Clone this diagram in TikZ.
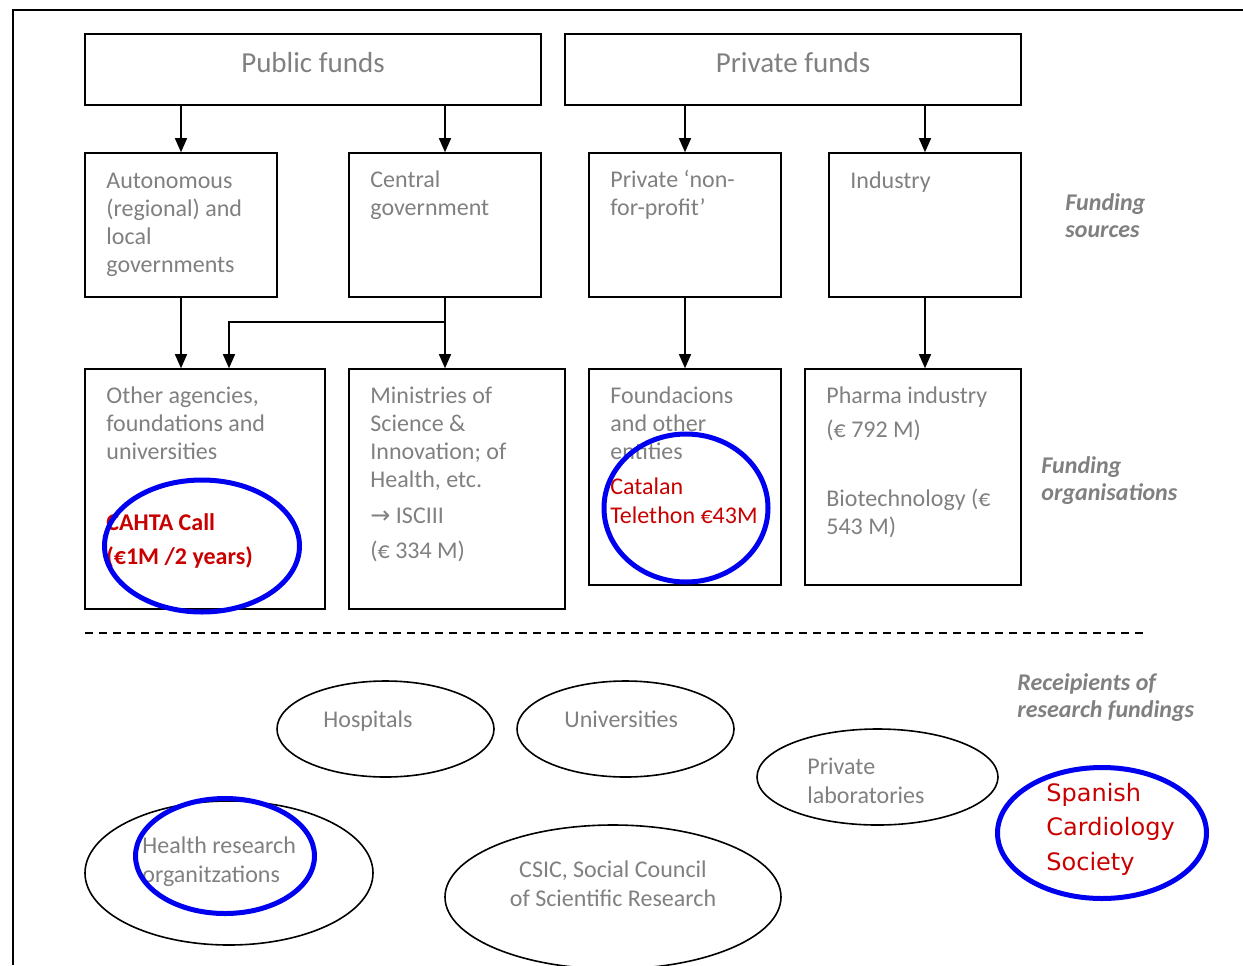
\documentclass[tikz,border=0pt]{standalone}
\usepackage{fontspec}
\setmainfont{Carlito}
\newfontfamily\dejavu{DejaVu Sans}
\usetikzlibrary{arrows.meta,shapes.geometric,fit}
\definecolor{txtgray}{RGB}{128,128,128}
\definecolor{darkred}{RGB}{200,0,0}
\definecolor{ringblue}{RGB}{0,0,240}
\tikzset{
    box/.style={draw, line width=0.8pt, inner sep=0pt},
    lbl/.style={anchor=base west, inner sep=0pt, align=left, text=txtgray, font=\fontsize{12}{14}\selectfont},
    side/.style={lbl, font=\fontsize{12}{13.5}\selectfont\bfseries\itshape},
    oval/.style={draw, ellipse, line width=0.8pt, inner sep=0pt},
    ring/.style={draw=ringblue, ellipse, line width=2.5pt, inner sep=0pt},
    arr/.style={-{Triangle[length=7pt,width=6pt]}, line width=0.7pt},
}
\begin{document}
\begin{tikzpicture}[x=0.5pt,y=-0.5pt]
    \useasboundingbox (0,0) rectangle (1243,965);
    \draw[line width=1pt] (13,965)--(13,10)--(1243,10);

    \node[box, fit={(85,34) (541,105)}] (pub) {};
    \node[box, fit={(565,34) (1021,105)}] (prv) {};
    \node[box, fit={(85,153) (277,297)}] (aut) {};
    \node[box, fit={(349,153) (541,297)}] (cen) {};
    \node[box, fit={(589,153) (781,297)}] (npf) {};
    \node[box, fit={(829,153) (1021,297)}] (ind) {};
    \node[box, fit={(85,369) (325,609)}] (oth) {};
    \node[box, fit={(349,369) (565,609)}] (min) {};
    \node[box, fit={(589,369) (781,585)}] (fou) {};
    \node[box, fit={(805,369) (1021,585)}] (pha) {};

    \node[lbl, anchor=base, font=\fontsize{14.5}{17}\selectfont] (pub-t) at (313,72) {Public funds};
    \node[lbl, anchor=base, font=\fontsize{14.5}{17}\selectfont] (prv-t) at (793,72) {Private funds};
    \node[lbl] (aut-t) at (106,272) {Autonomous\\(regional) and\\local\\governments};
    \node[lbl] (cen-t) at (370,215) {Central\\government};
    \node[lbl] (npf-t) at (610,215) {Private ‘non-\\for-profit’};
    \node[lbl] (ind-t) at (850,188) {Industry};
    \node[lbl] (oth-t) at (106,459) {Other agencies,\\foundations and\\universities};
    \node[lbl, text=darkred, font=\fontsize{12}{17}\selectfont\bfseries] (cahta-t) at (106,564) {CAHTA Call\\(€1M /2 years)};
    \node[lbl] (min-t) at (370,558) {Ministries of\\Science \&\\Innovation; of\\Health, etc.\\[4pt]{\dejavu →} ISCIII\\[3.5pt](€ 334 M)};
    \node[lbl] (fou-t) at (610,459) {Foundacions\\and other\\entities};
    \node[lbl, text=darkred, font=\fontsize{12}{14.5}\selectfont] (cat-t) at (610,523) {Catalan\\Telethon €43M};
    \node[lbl] (pha-t) at (826,437) {Pharma industry\\[3pt](€ 792 M)};
    \node[lbl] (bio-t) at (826,534) {Biotechnology (€\\543 M)};

    \node[side] (src-t) at (1065,237) {Funding\\sources};
    \node[side] (org-t) at (1041,500) {Funding\\organisations};
    \node[side] (rec-t) at (1017,717) {Receipients of\\research fundings};

    \draw[arr] (pub.south -| aut.north) -- (aut.north);
    \draw[arr] (pub.south -| cen.north) -- (cen.north);
    \draw[arr] (prv.south -| npf.north) -- (npf.north);
    \draw[arr] (prv.south -| ind.north) -- (ind.north);
    \draw[arr] (aut.south) -- (aut.south |- oth.north);
    \draw[arr] (cen.south) -- (cen.south |- min.north);
    \coordinate (split) at (445,322);
    \coordinate (bend) at (229,322);
    \draw[arr] (split) -- (bend) -- (bend |- oth.north);
    \draw[arr] (npf.south) -- (fou.north);
    \draw[arr] (ind.south) -- (ind.south |- pha.north);

    \draw[dash pattern=on 4pt off 3pt, line width=0.7pt] (85,633) -- (1143,633);

    \node[oval, minimum width=108.5pt, minimum height=48pt] (hosp) at (385.5,729) {};
    \node[oval, minimum width=108.5pt, minimum height=48pt] (univ) at (625.5,729) {};
    \node[oval, minimum width=120.5pt, minimum height=48pt] (labs) at (877.5,777) {};
    \node[oval, minimum width=144pt, minimum height=72pt] (hro) at (229,873) {};
    \node[oval, minimum width=168pt, minimum height=72pt] (csic) at (613,897) {};

    \node[lbl] (hosp-t) at (323,727) {Hospitals};
    \node[lbl] (univ-t) at (564,727) {Universities};
    \node[lbl, font=\fontsize{12}{14.5}\selectfont] (labs-t) at (807,803) {Private\\laboratories};
    \node[lbl, font=\fontsize{12}{14.5}\selectfont] (hro-t) at (142,882) {Health research\\organitzations};
    \node[lbl, anchor=base, align=center, font=\fontsize{12}{14.5}\selectfont] (csic-t) at (613,906) {CSIC, Social Council\\of Scientific Research};
    \node[lbl, text=darkred, font=\dejavu\fontsize{12}{17.25}\selectfont] (sec-t) at (1046,870) {Spanish\\Cardiology\\Society};

    \node[ring, minimum width=97.5pt, minimum height=66pt] (cahta) at (202,546) {};
    \node[ring, minimum width=82pt, minimum height=74pt] (cat) at (686,508) {};
    \node[ring, minimum width=89.5pt, minimum height=57.5pt] (hror) at (225,856) {};
    \node[ring, minimum width=104.5pt, minimum height=65.5pt] (sec) at (1102,833) {};
\end{tikzpicture}
\end{document}
